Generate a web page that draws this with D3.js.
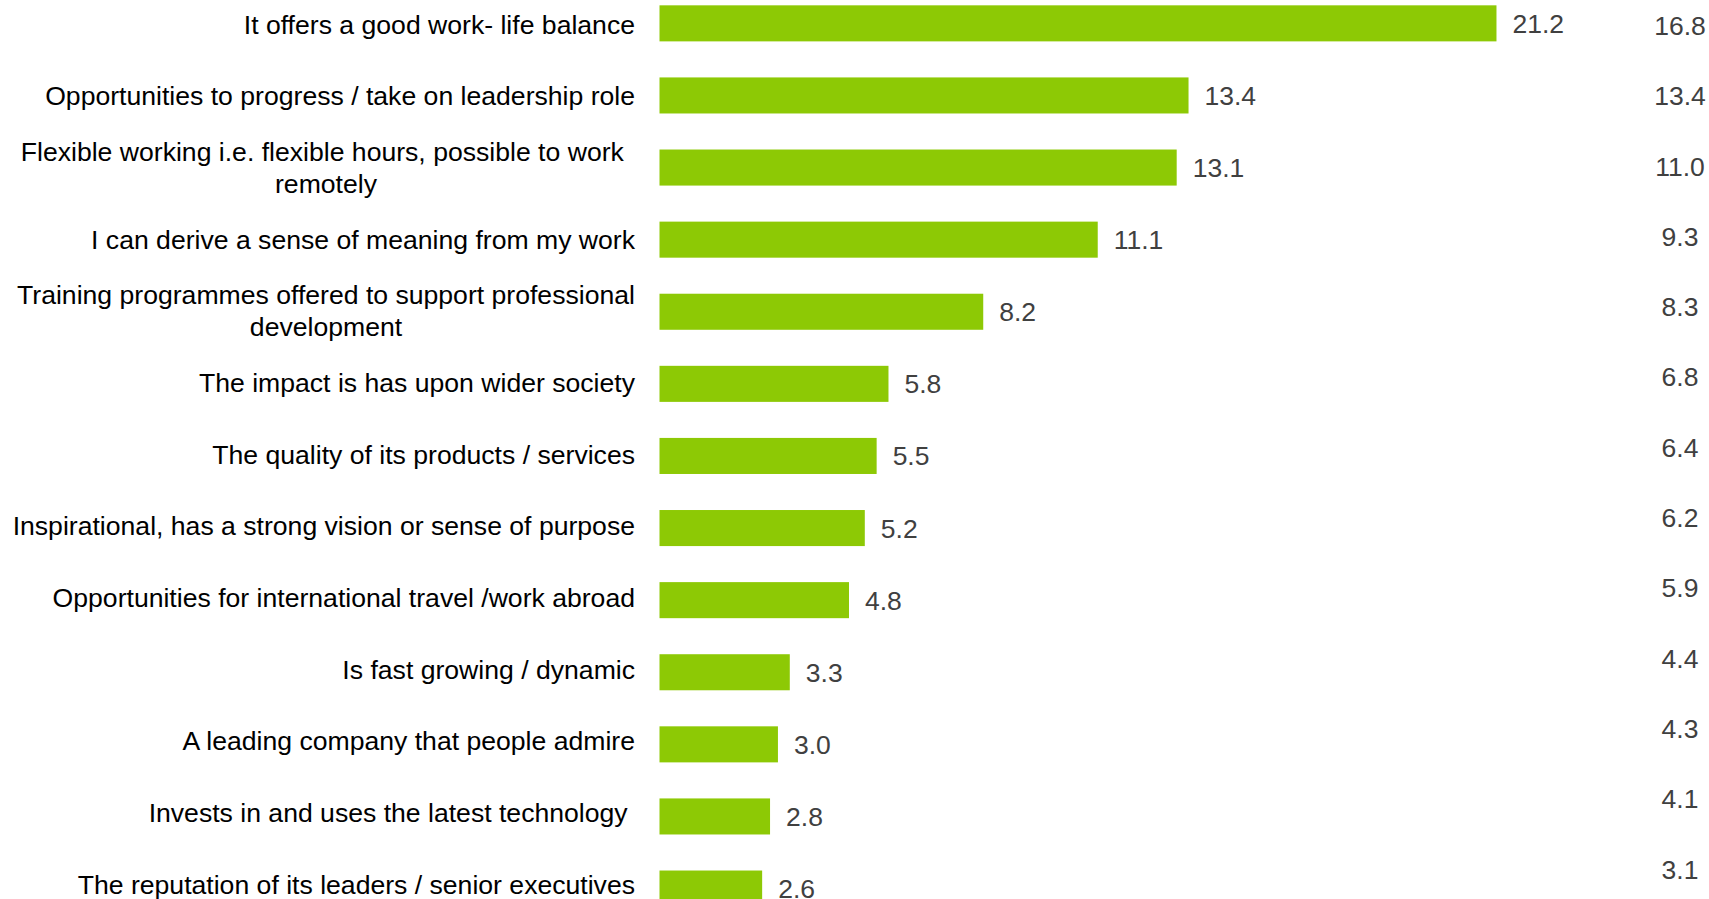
<!DOCTYPE html>
<html>
<head>
<meta charset="utf-8">
<script src="https://cdn.jsdelivr.net/npm/d3@7.9.0/dist/d3.min.js"></script>
<style>
  html, body { margin: 0; padding: 0; background: #fff; overflow: hidden; }
  svg { display: block; font-family: "Liberation Sans", Arial, sans-serif; }
</style>
</head>
<body>
<svg id="chart" width="1709" height="899"></svg>
<script>
// ===== data =====
const categories = [
  ['It offers a good work- life balance'],
  ['Opportunities to progress / take on leadership role'],
  ['Flexible working i.e. flexible hours, possible to work ', 'remotely'],
  ['I can derive a sense of meaning from my work'],
  ['Training programmes offered to support professional', 'development'],
  ['The impact is has upon wider society'],
  ['The quality of its products / services'],
  ['Inspirational, has a strong vision or sense of purpose'],
  ['Opportunities for international travel /work abroad'],
  ['Is fast growing / dynamic'],
  ['A leading company that people admire'],
  ['Invests in and uses the latest technology '],
  ['The reputation of its leaders / senior executives']
];
const values    = [21.2, 13.4, 13.1, 11.1, 8.2, 5.8, 5.5, 5.2, 4.8, 3.3, 3.0, 2.8, 2.6];
const compareValues = [16.8, 13.4, 11.0, 9.3, 8.3, 6.8, 6.4, 6.2, 5.9, 4.4, 4.3, 4.1, 3.1];

const rows = categories.map((lines, i) => ({ i, lines, value: values[i], compare: compareValues[i] }));

const svg = d3.select('#chart');

// scales
const x = d3.scaleLinear().domain([0, 25]).range([659.5, 1646.5]);
const y = d3.scaleBand()
  .domain(rows.map(d => d.i))
  .range([-12.7, 924.6])
  .paddingInner(0.5)
  .paddingOuter(0.25);
// label rows sit on a slightly tighter pitch than the bars
const yLabel = d3.scalePoint()
  .domain(rows.map(d => d.i))
  .range([26.5, 886.5]);
const yRight = d3.scalePoint()
  .domain(rows.map(d => d.i))
  .range([28, 871.5]);

const BAR = '#8dc905';

// bars
svg.append('g').selectAll('rect')
  .data(rows)
  .join('rect')
    .attr('x', x(0))
    .attr('y', d => y(d.i))
    .attr('width', d => x(d.value) - x(0))
    .attr('height', y.bandwidth())
    .attr('fill', BAR);

// value labels at bar ends
svg.append('g').selectAll('text')
  .data(rows)
  .join('text')
    .attr('x', d => x(d.value) + 16)
    .attr('y', d => y(d.i) + y.bandwidth() / 2 + 2.5)
    .attr('dominant-baseline', 'middle')
    .attr('font-size', 26.5)
    .attr('fill', '#404040')
    .text(d => d.value.toFixed(1));

// category labels
const lineH = 31.5;
const labels = svg.append('g').selectAll('text')
  .data(rows)
  .join('text')
    .attr('font-size', 26.6)
    .attr('fill', '#000')
    .style('white-space', 'pre')
    .attr('text-anchor', d => d.lines.length > 1 ? 'middle' : 'end')
    .attr('dominant-baseline', 'middle');

labels.selectAll('tspan')
  .data(d => d.lines.map((t, k) => ({ t, k, n: d.lines.length, row: d })))
  .join('tspan')
    .attr('x', d => d.n > 1 ? 326 : 635)
    .attr('y', d => yLabel(d.row.i) + (d.k - (d.n - 1) / 2) * lineH)
    .text(d => d.t);

// comparison column on the right
svg.append('g').selectAll('text')
  .data(rows)
  .join('text')
    .attr('x', 1680)
    .attr('y', d => yRight(d.i))
    .attr('text-anchor', 'middle')
    .attr('dominant-baseline', 'middle')
    .attr('font-size', 26.5)
    .attr('fill', '#404040')
    .text(d => d.compare.toFixed(1));
</script>
</body>
</html>
